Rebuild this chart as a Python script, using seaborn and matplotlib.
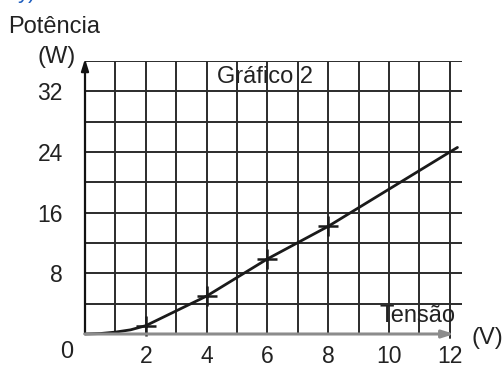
import matplotlib
matplotlib.use("Agg")
import matplotlib.pyplot as plt
import seaborn as sns
import pandas as pd

# Power (W) versus voltage (V)
tensao = [0, 0.5, 1, 1.5, 2, 4, 6, 8, 10, 12, 12.25]
potencia = [0, 0.06, 0.25, 0.55, 1.1, 5.0, 9.9, 14.2, 19.1, 24.0, 24.6]

# Marked measurement points along the curve
tensao_pts = [2, 4, 6, 8]
potencia_pts = [1.1, 5.0, 9.9, 14.2]

x_ticks = list(range(0, 13))
x_labels = ["" if v % 2 or v == 0 else str(v) for v in x_ticks]
y_ticks = list(range(4, 37, 4))
y_labels = [str(v) if v % 8 == 0 and v < 36 else "" for v in y_ticks]

sns.set_style("white")
plt.rcParams["font.family"] = ["Liberation Sans", "DejaVu Sans"]

W, H = 504, 367
fig = plt.figure(figsize=(W / 100, H / 100), dpi=100)
ax = fig.add_axes([85 / W, 1 - 334 / H, (462 - 85) / W, (334 - 61) / H])

grid_c = "#2b2b2b"
df = pd.DataFrame({"V": tensao, "P": potencia})
pts = pd.DataFrame({"V": tensao_pts, "P": potencia_pts})

sns.lineplot(data=df, x="V", y="P", ax=ax, color="#1a1a1a", lw=2.0,
             zorder=4, clip_on=False)
sns.scatterplot(data=pts, x="V", y="P", ax=ax, marker="+", s=190,
                color="#1a1a1a", linewidth=1.8, zorder=5, clip_on=False)

ax.set_xlim(0, 12.4)
ax.set_ylim(0, 36)
ax.set_xticks(x_ticks)
ax.set_xticklabels(x_labels, fontsize=16.5, color="#222222")
ax.set_yticks(y_ticks)
ax.set_yticklabels(y_labels, fontsize=16.5, color="#222222")
ax.tick_params(axis="x", length=0, pad=8)
ax.tick_params(axis="y", length=0, pad=16)
ax.grid(True, color=grid_c, lw=1.4)
ax.set_axisbelow(True)
for s in ax.spines.values():
    s.set_visible(False)
ax.set_xlabel("")
ax.set_ylabel("")

# Axes drawn as arrows
ax.annotate("", xy=(0, 36.3), xytext=(0, 0),
            arrowprops=dict(arrowstyle="-|>,head_length=0.7,head_width=0.22",
                            color="#111111", lw=1.6, shrinkA=0, shrinkB=0),
            annotation_clip=False, zorder=6)
ax.annotate("", xy=(12.15, 0), xytext=(0, 0),
            arrowprops=dict(arrowstyle="-|>,head_length=0.7,head_width=0.22",
                            color="#8c8c8c", lw=2.2, shrinkA=0, shrinkB=0),
            annotation_clip=False, zorder=6)
ax.plot([12, 12], [0, -0.5], color=grid_c, lw=1.4, clip_on=False, zorder=3)


def ftext(x, y, s, **kw):
    fig.text(x / W, 1 - y / H, s, fontsize=17, color="#222222", **kw)


ftext(8, 33, "Potência", ha="left", va="baseline")
ftext(57, 57, "(W)", ha="center", va="center")
ftext(217, 77, "Gráfico 2", ha="left", va="center")
ftext(380, 316, "Tensão", ha="left", va="center")
ftext(487, 338, "(V)", ha="center", va="center")
ftext(67, 352, "0", ha="center", va="center")
fig.text(18 / W, 1 + 2 / H, "y)", fontsize=16, color="#1f5fbf",
         ha="left", va="baseline")

fig.savefig("out.png", dpi=100)
